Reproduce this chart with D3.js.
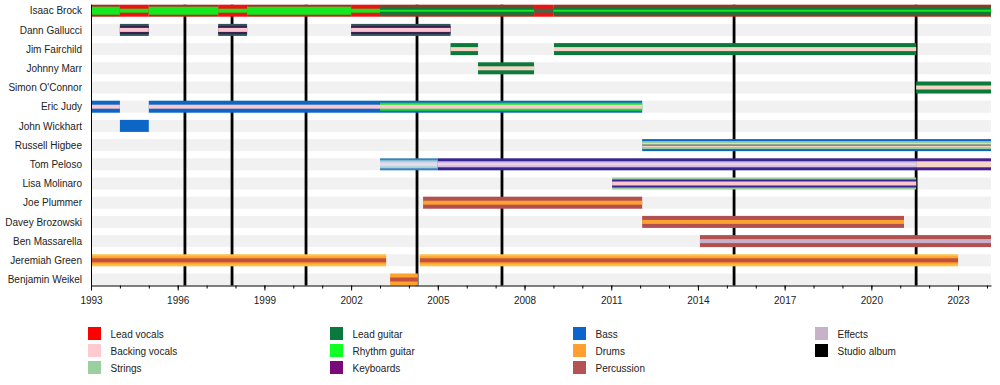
<!DOCTYPE html>
<html>
<head>
<meta charset="utf-8">
<script src="https://cdnjs.cloudflare.com/ajax/libs/d3/7.8.5/d3.min.js"></script>
<style>
body { margin: 0; background: #fff; }
text { font-family: 'Liberation Sans', Arial, sans-serif; font-size: 10px; fill: #222; }
</style>
</head>
<body>
<svg id="chart" width="1000" height="385"></svg>
<script>
'use strict';

var members = ['Isaac Brock', 'Dann Gallucci', 'Jim Fairchild', 'Johnny Marr',
    'Simon O\'Connor', 'Eric Judy', 'John Wickhart', 'Russell Higbee', 'Tom Peloso',
    'Lisa Molinaro', 'Joe Plummer', 'Davey Brozowski', 'Ben Massarella',
    'Jeremiah Green', 'Benjamin Weikel'];

var startDate = 1993;
var endDate = 2024.14;

var majorYears = [1993, 1996, 1999, 2002, 2005, 2008, 2011, 2014, 2017, 2020, 2023];

var albums = [1996.25, 1997.88, 2000.44, 2004.28, 2007.22, 2015.25, 2021.55];

// legend, column by column
var roles = [
    ['Lead vocals', 'leadVocals'],
    ['Backing vocals', 'backing'],
    ['Strings', 'strings'],
    ['Lead guitar', 'leadGuitar'],
    ['Rhythm guitar', 'rhythm'],
    ['Keyboards', 'keyboards'],
    ['Bass', 'bass'],
    ['Drums', 'drums'],
    ['Percussion', 'percussion'],
    ['Effects', 'effects'],
    ['Studio album', 'album']
];

// member, from, till, shade, layer (0 = full bar, higher = thinner inner stripe)
var spans = [
    ['Isaac Brock', 1993, 1994, 'brockEdge', 0],
    ['Isaac Brock', 1993, 1994, 'rhythm', 1],
    ['Isaac Brock', 1994, 1995, 'leadVocals', 0],
    ['Isaac Brock', 1994, 1995, 'rhythm', 3],
    ['Isaac Brock', 1995, 1997.4, 'brockEdge', 0],
    ['Isaac Brock', 1995, 1997.4, 'rhythm', 1],
    ['Isaac Brock', 1997.4, 1998.4, 'leadVocals', 0],
    ['Isaac Brock', 1997.4, 1998.4, 'rhythm', 3],
    ['Isaac Brock', 1998.4, 2002, 'brockEdge', 0],
    ['Isaac Brock', 1998.4, 2002, 'rhythm', 1],
    ['Isaac Brock', 2002, 2003, 'leadVocals', 0],
    ['Isaac Brock', 2002, 2003, 'rhythm', 3],
    ['Isaac Brock', 2003, 2008.33, 'brockEdge', 0],
    ['Isaac Brock', 2003, 2008.33, 'leadGuitar', 1],
    ['Isaac Brock', 2003, 2008.33, 'rhythm', 4],
    ['Isaac Brock', 2008.33, 2009, 'leadVocals', 0],
    ['Isaac Brock', 2008.33, 2009, 'brockMute', 3],
    ['Isaac Brock', 2009, endDate, 'brockEdge', 0],
    ['Isaac Brock', 2009, endDate, 'leadGuitar', 1],
    ['Isaac Brock', 2009, endDate, 'rhythm', 4],

    ['Dann Gallucci', 1994, 1995, 'slate', 0],
    ['Dann Gallucci', 1994, 1995, 'plum', 1],
    ['Dann Gallucci', 1994, 1995, 'backing', 3],
    ['Dann Gallucci', 1997.4, 1998.4, 'slate', 0],
    ['Dann Gallucci', 1997.4, 1998.4, 'plum', 1],
    ['Dann Gallucci', 1997.4, 1998.4, 'backing', 3],
    ['Dann Gallucci', 2002, 2005.44, 'slate', 0],
    ['Dann Gallucci', 2002, 2005.44, 'plum', 1],
    ['Dann Gallucci', 2002, 2005.44, 'backing', 3],

    ['Jim Fairchild', 2005.44, 2006.39, 'leadGuitar', 0],
    ['Jim Fairchild', 2005.44, 2006.39, 'peach', 3],
    ['Jim Fairchild', 2009.02, 2021.55, 'leadGuitar', 0],
    ['Jim Fairchild', 2009.02, 2021.55, 'peach', 3],

    ['Johnny Marr', 2006.39, 2008.33, 'leadGuitar', 0],
    ['Johnny Marr', 2006.39, 2008.33, 'peach', 3],

    ['Simon O\'Connor', 2021.55, endDate, 'leadGuitar', 0],
    ['Simon O\'Connor', 2021.55, endDate, 'peach', 3],

    ['Eric Judy', 1993, 1994, 'bass', 0],
    ['Eric Judy', 1993, 1994, 'backing', 3],
    ['Eric Judy', 1995, 2003, 'bass', 0],
    ['Eric Judy', 1995, 2003, 'backing', 3],
    ['Eric Judy', 2003, 2012.07, 'bass', 0],
    ['Eric Judy', 2003, 2012.07, 'rhythm', 1],
    ['Eric Judy', 2003, 2012.07, 'backing', 3],

    ['John Wickhart', 1994, 1995, 'bass', 0],

    ['Russell Higbee', 2012.07, endDate, 'bass', 0],
    ['Russell Higbee', 2012.07, endDate, 'strings', 1],
    ['Russell Higbee', 2012.07, endDate, 'peach', 3],
    ['Russell Higbee', 2012.07, endDate, 'sage', 5],

    ['Tom Peloso', 2003, 2005, 'steel', 0],
    ['Tom Peloso', 2003, 2005, 'sky', 1],
    ['Tom Peloso', 2003, 2005, 'mist', 3],
    ['Tom Peloso', 2005, 2021.55, 'indigo', 0],
    ['Tom Peloso', 2005, 2021.55, 'lavender', 2],
    ['Tom Peloso', 2005, 2021.55, 'rose', 4],
    ['Tom Peloso', 2021.55, endDate, 'violet', 0],
    ['Tom Peloso', 2021.55, endDate, 'peach', 2],

    ['Lisa Molinaro', 2011.03, 2021.55, 'strings', 0],
    ['Lisa Molinaro', 2011.03, 2021.55, 'indigo', 1],
    ['Lisa Molinaro', 2011.03, 2021.55, 'backing', 3],

    ['Joe Plummer', 2004.49, 2012.07, 'percussion', 0],
    ['Joe Plummer', 2004.49, 2012.07, 'drums', 3],

    ['Davey Brozowski', 2012.07, 2021.13, 'percussion', 0],
    ['Davey Brozowski', 2012.07, 2021.13, 'drums', 3],

    ['Ben Massarella', 2014.07, endDate, 'percussion', 0],
    ['Ben Massarella', 2014.07, endDate, 'effects', 3],

    ['Jeremiah Green', 1993, 2003.21, 'amber', 0],
    ['Jeremiah Green', 1993, 2003.21, 'drums', 1],
    ['Jeremiah Green', 1993, 2003.21, 'brick', 3],
    ['Jeremiah Green', 2004.38, 2023, 'amber', 0],
    ['Jeremiah Green', 2004.38, 2023, 'drums', 1],
    ['Jeremiah Green', 2004.38, 2023, 'brick', 3],

    ['Benjamin Weikel', 2003.35, 2004.31, 'drums', 0],
    ['Benjamin Weikel', 2003.35, 2004.31, 'brick', 3]
];

var shades = {
    leadVocals: '#f01212',
    backing: '#fcc6d2',
    strings: '#9acc9e',
    leadGuitar: '#0b7a3a',
    rhythm: '#14e81e',
    keyboards: '#7c0c7c',
    bass: '#0b66c6',
    drums: '#fca230',
    percussion: '#b24f4f',
    effects: '#c8b0cb',
    album: '#000000',
    brockEdge: '#b42a1c',
    brockMute: '#3f6a48',
    slate: '#2d5656',
    plum: '#3b1e4d',
    peach: '#f4d5c6',
    sage: '#3f7a5a',
    steel: '#3a84b8',
    sky: '#a4d0e2',
    mist: '#e4dbe6',
    indigo: '#3a2590',
    lavender: '#cdbfe6',
    rose: '#f2d2e4',
    violet: '#4b1f8f',
    amber: '#fcc242',
    brick: '#c4503b'
};

var legendColors = {
    leadVocals: '#ff0000', backing: '#ffc9d0', strings: '#9ccf9f',
    leadGuitar: '#0a7a3c', rhythm: '#11ff22', keyboards: '#7a0a7a',
    bass: '#0a66cc', drums: '#ff9f2f', percussion: '#b55252',
    effects: '#c8b2c8', album: '#000000'
};

var layerWidth = [12, 8, 6, 4, 2, 1.2];

var svg = d3.select('#chart');

var margin = {left: 91, right: 9, top: 4.7, bottom: 99.5};
var width = 1000 - margin.left - margin.right,
    plotBottom = 385 - margin.bottom;

var xScale = d3.scaleLinear()
    .domain([startDate, endDate])
    .range([margin.left, margin.left + width]);

var yScale = d3.scaleBand()
    .domain(members)
    .range([margin.top, plotBottom])
    .paddingInner(0.375)
    .paddingOuter(0);

var bw = yScale.bandwidth();

// grey row bands
svg.append('g')
    .selectAll('rect')
    .data(members)
    .enter().append('rect')
        .attr('x', xScale(startDate))
        .attr('width', xScale(endDate) - xScale(startDate))
        .attr('y', function(d) { return yScale(d); })
        .attr('height', bw)
        .attr('fill', '#f1f1f1');

// studio albums
svg.append('g')
    .selectAll('line')
    .data(albums)
    .enter().append('line')
        .attr('x1', function(d) { return xScale(d); })
        .attr('x2', function(d) { return xScale(d); })
        .attr('y1', margin.top)
        .attr('y2', plotBottom)
        .attr('stroke', '#000')
        .attr('stroke-width', 2.8);

// member bars
svg.append('g')
    .selectAll('rect')
    .data(spans)
    .enter().append('rect')
        .attr('x', function(d) { return xScale(d[1]); })
        .attr('width', function(d) { return xScale(d[2]) - xScale(d[1]); })
        .attr('y', function(d) { return yScale(d[0]) + (bw - layerWidth[d[4]]) / 2; })
        .attr('height', function(d) { return layerWidth[d[4]]; })
        .attr('fill', function(d) { return shades[d[3]]; });

// names
svg.append('g')
    .selectAll('text')
    .data(members)
    .enter().append('text')
        .attr('x', 82)
        .attr('y', function(d) { return yScale(d) + bw / 2; })
        .attr('dy', '0.36em')
        .attr('text-anchor', 'end')
        .text(function(d) { return d; });

// left edge
svg.append('line')
    .attr('x1', margin.left + 0.5)
    .attr('x2', margin.left + 0.5)
    .attr('y1', margin.top)
    .attr('y2', plotBottom)
    .attr('stroke', '#000');

// time axis: yearly minor ticks, labelled every 3 years
var minorAxis = d3.axisBottom(xScale)
    .tickValues(d3.range(startDate, Math.floor(endDate) + 1))
    .tickSize(3)
    .tickSizeOuter(0)
    .tickFormat('');

var majorAxis = d3.axisBottom(xScale)
    .tickValues(majorYears)
    .tickSize(5)
    .tickSizeOuter(0)
    .tickPadding(6)
    .tickFormat(d3.format('d'));

svg.append('g')
    .attr('transform', 'translate(0,' + plotBottom + ')')
    .call(minorAxis);

svg.append('g')
    .attr('transform', 'translate(0,' + plotBottom + ')')
    .call(majorAxis)
    .select('.domain').remove();

// legend
var legendX = [88, 330, 573, 815];
var legend = svg.append('g')
    .selectAll('g')
    .data(roles)
    .enter().append('g')
        .attr('transform', function(d, i) {
            return 'translate(' + legendX[Math.floor(i / 3)] + ',' + (327 + (i % 3) * 17) + ')';
        });

legend.append('rect')
    .attr('width', 13)
    .attr('height', 13)
    .attr('fill', function(d) { return legendColors[d[1]]; });

legend.append('text')
    .attr('x', 22.5)
    .attr('y', 11)
    .text(function(d) { return d[0]; });
</script>
</body>
</html>
